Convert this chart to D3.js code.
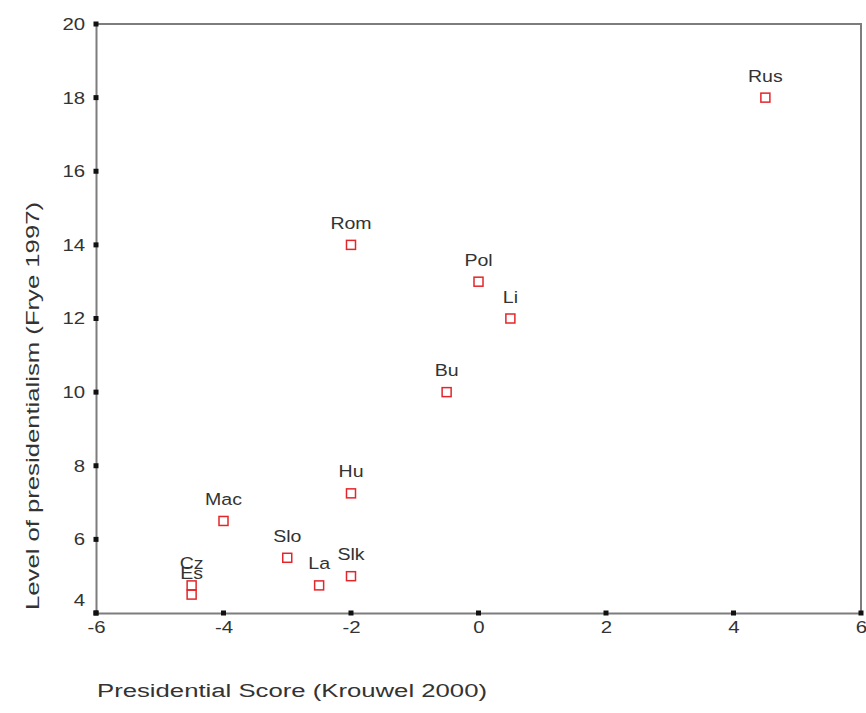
<!DOCTYPE html>
<html>
<head>
<meta charset="utf-8">
<script src="https://cdn.jsdelivr.net/npm/d3@7"></script>
<style>
  body { margin: 0; background: #fff; }
  text { font-family: "Liberation Sans", Arial, sans-serif; fill: #333; }
</style>
</head>
<body>
<div id="scatter"></div>
<script>
var svgWidth = 866;
var svgHeight = 713;

var margin = { top: 24, right: 5, bottom: 100, left: 96 };
var width = svgWidth - margin.left - margin.right;
var height = svgHeight - margin.top - margin.bottom;

// data
var countries = ["Rus", "Rom", "Pol", "Li", "Bu", "Hu", "Mac", "Slo", "La", "Slk", "Cz", "Es"];
var presScore = [4.5, -2, 0, 0.5, -0.5, -2, -4, -3, -2.5, -2, -4.5, -4.5];
var fryeLevel = [18, 14, 13, 12, 10, 7.25, 6.5, 5.5, 4.75, 5, 4.75, 4.5];
var xTicks = [-6, -4, -2, 0, 2, 4, 6];
var yTicks = [4, 6, 8, 10, 12, 14, 16, 18, 20];

var data = countries.map(function(c, i) {
  return { name: c, x: presScore[i], y: fryeLevel[i] };
});

var svg = d3.select("#scatter")
  .append("svg")
  .attr("width", svgWidth)
  .attr("height", svgHeight);

var chartGroup = svg.append("g")
  .attr("transform", `translate(${margin.left}, ${margin.top})`);

var xScale = d3.scaleLinear().domain([-6, 6]).range([0, width]);
var yScale = d3.scaleLinear().domain([4, 20]).range([height, 0]);

// frame: top and right lines
chartGroup.append("path")
  .attr("d", `M0,0H${width}V${height}`)
  .attr("fill", "none")
  .attr("stroke", "#7d7d7d")
  .attr("stroke-width", 2);

var bottomAxis = d3.axisBottom(xScale).tickValues(xTicks).tickFormat(d => String(d)).tickSize(0).tickPadding(8);
var leftAxis = d3.axisLeft(yScale).tickValues(yTicks).tickFormat(d => String(d)).tickSize(0).tickPadding(9);

var xg = chartGroup.append("g")
  .attr("transform", `translate(0, ${height})`)
  .call(bottomAxis);
var yg = chartGroup.append("g").call(leftAxis);

[xg, yg].forEach(function(g) {
  g.select(".domain").attr("stroke", "#7d7d7d").attr("stroke-width", 2);
  g.selectAll("text")
    .style("font-family", "'Liberation Sans', Arial, sans-serif")
    .style("font-size", "17px")
    .attr("fill", "#3a3a3a")
    .attr("transform", "scale(1.2,1)");
});
// lowest y label sits higher to clear the x axis
yg.selectAll(".tick").filter(d => d === 4).select("text").attr("y", -13);

// small square tick marks
chartGroup.selectAll(".xmark")
  .data(xTicks)
  .enter()
  .append("rect")
  .attr("x", d => xScale(d) - 2.5)
  .attr("y", height - 2.5)
  .attr("width", 5)
  .attr("height", 5)
  .attr("fill", "#111");

chartGroup.selectAll(".ymark")
  .data(yTicks)
  .enter()
  .append("rect")
  .attr("x", -2.5)
  .attr("y", d => yScale(d) - 2.5)
  .attr("width", 5)
  .attr("height", 5)
  .attr("fill", "#111");

// points
chartGroup.selectAll(".pt")
  .data(data)
  .enter()
  .append("rect")
  .attr("class", "pt")
  .attr("x", d => xScale(d.x) - 4.5)
  .attr("y", d => yScale(d.y) - 4.5)
  .attr("width", 9)
  .attr("height", 9)
  .attr("fill", "none")
  .attr("stroke", "#e3262b")
  .attr("stroke-width", 1.5);

chartGroup.selectAll(".lbl")
  .data(data)
  .enter()
  .append("text")
  .attr("class", "lbl")
  .attr("transform", d => `translate(${xScale(d.x)}, ${yScale(d.y) - 16}) scale(1.15,1)`)
  .attr("text-anchor", "middle")
  .style("font-size", "17px")
  .text(d => d.name);

// axis labels
svg.append("text")
  .attr("transform", "translate(39, 610) rotate(-90)")
  .attr("textLength", 408)
  .attr("lengthAdjust", "spacingAndGlyphs")
  .style("font-size", "18px")
  .text("Level of presidentialism (Frye 1997)");

svg.append("text")
  .attr("x", 97)
  .attr("y", 697)
  .attr("textLength", 390)
  .attr("lengthAdjust", "spacingAndGlyphs")
  .style("font-size", "18px")
  .text("Presidential Score (Krouwel 2000)");
</script>
</body>
</html>
